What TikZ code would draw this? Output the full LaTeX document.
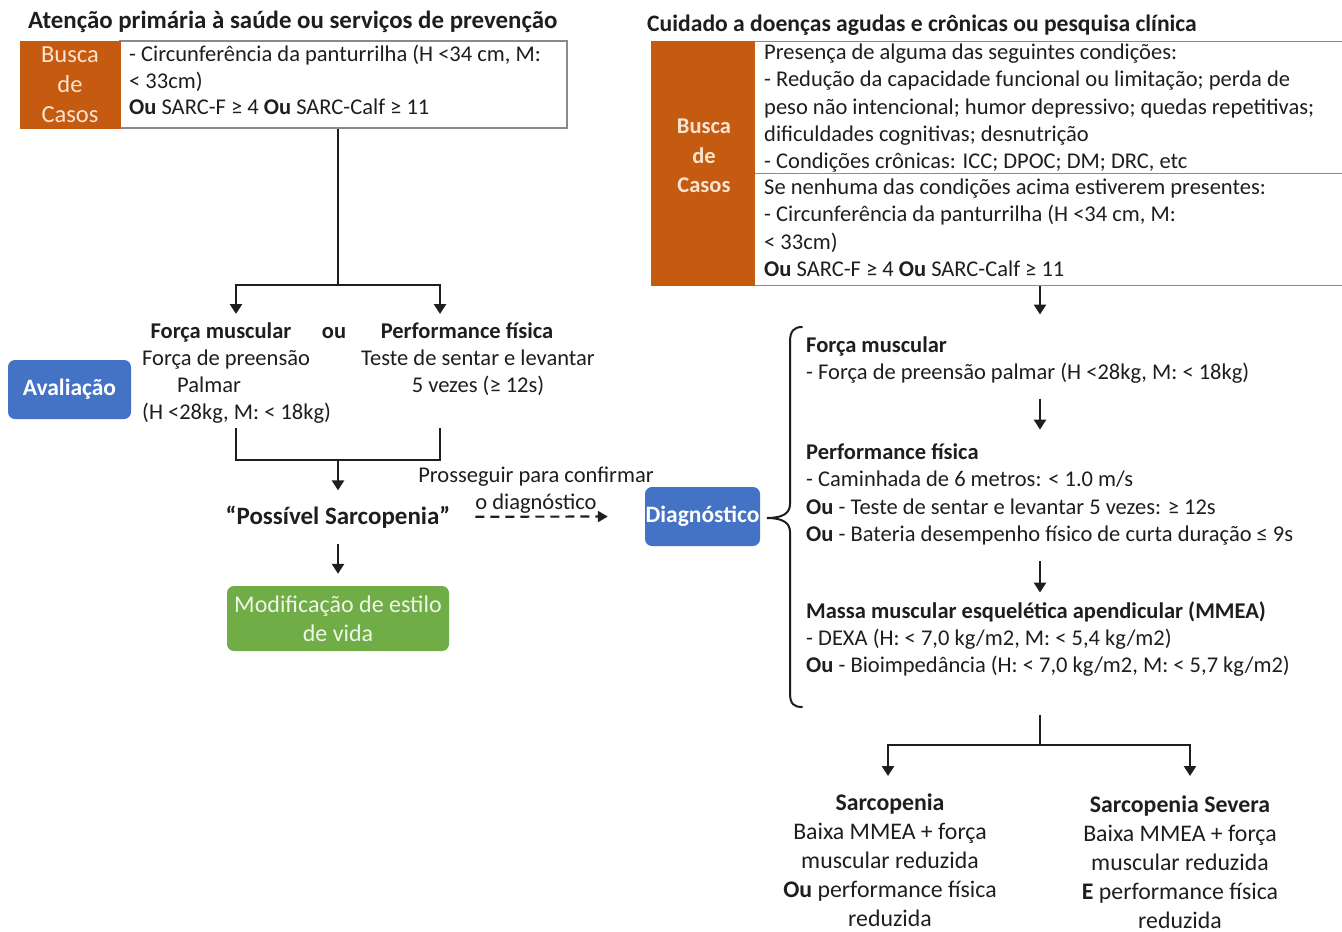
\documentclass[tikz,border=0pt]{standalone}
\usepackage{fontspec}
\setmainfont{Carlito}
\usetikzlibrary{arrows.meta}
\definecolor{orng}{HTML}{C55A11}
\definecolor{cream}{HTML}{FBE3D0}
\definecolor{blu}{HTML}{4472C4}
\definecolor{grn}{HTML}{70AD47}
\definecolor{leaf}{HTML}{EEF6E8}
\definecolor{ink}{HTML}{1E1E1E}
\definecolor{frame}{HTML}{8A8A8A}
\tikzset{
  txt/.style={inner sep=0pt, text=ink, font=\fontsize{22.5}{27}\selectfont},
  head/.style={txt, font=\fontsize{22.5}{27}\selectfont\bfseries},
  orangebox/.style={draw=orng, fill=orng, inner sep=0pt},
  framebox/.style={draw=frame, line width=1.2pt, fill=white, inner sep=0pt},
  pill/.style={rounded corners=7pt, inner sep=0pt, align=center},
  link/.style={line width=2.5pt, draw=ink},
  arrow/.style={link, -{Triangle[length=10pt,width=12pt]}},
  dashlink/.style={link, line width=2.2pt, dash pattern=on 9pt off 6pt, -{Triangle[length=10pt,width=11pt]}},
}
\begin{document}
\begin{tikzpicture}[x=1pt,y=-1pt]
\useasboundingbox[fill=white] (0,0) rectangle (1342,932);

% ---------- titles ----------
\node[head, font=\fontsize{24.9}{27}\selectfont\bfseries, anchor=base west] (titleL) at (28,28) {Atenção primária à saúde ou serviços de prevenção};
\node[head, font=\fontsize{23.6}{27}\selectfont\bfseries, anchor=base west] (titleR) at (647,31) {Cuidado a doenças agudas e crônicas ou pesquisa clínica};

% ---------- case finding, primary care ----------
\node[framebox, minimum width=447, minimum height=87] (wbL) at (343.5,84.5) {};
\node[orangebox, minimum width=100, minimum height=87] (ocL) at (70,84.5) {};
\node[txt, text=cream, align=center, font=\fontsize{24.5}{30}\selectfont, anchor=base] (ocLt) at (70,122) {Busca\\de\\Casos};
\node[txt, font=\fontsize{22.5}{26.5}\selectfont, align=left, anchor=base west] (wbLt) at (129,114.5)
  {- Circunferência da panturrilha (H <34 cm, M:\\< 33cm)\\\textbf{Ou} SARC-F ≥ 4 \textbf{Ou} SARC-Calf ≥ 11};

% ---------- case finding, acute/chronic care ----------
\node[framebox, minimum width=592, minimum height=132, anchor=north west] (wbR1) at (754,41) {};
\node[framebox, minimum width=592, minimum height=112, anchor=north west] (wbR2) at (754,173) {};
\node[orangebox, minimum width=103, minimum height=244] (ocR) at (702.5,163) {};
\node[txt, text=cream, font=\fontsize{22.5}{29.5}\selectfont\bfseries, align=center, anchor=base] (ocRt) at (704,192.5) {Busca\\de\\Casos};
\node[txt, font=\fontsize{22.5}{27.25}\selectfont, align=left, anchor=base west] (wbR1t) at (764,168.5)
  {Presença de alguma das seguintes condições:\\
   - Redução da capacidade funcional ou limitação; perda de\\
   peso não intencional; humor depressivo; quedas repetitivas;\\
   dificuldades cognitivas; desnutrição\\
   - Condições crônicas: ICC; DPOC; DM; DRC, etc};
\node[txt, font=\fontsize{22.5}{27.3}\selectfont, align=left, anchor=base west] (wbR2t) at (764,276.5)
  {Se nenhuma das condições acima estiverem presentes:\\
   - Circunferência da panturrilha (H <34 cm, M:\\
   < 33cm)\\
   \textbf{Ou} SARC-F ≥ 4 \textbf{Ou} SARC-Calf ≥ 11};

% ---------- evaluation, primary care ----------
\node[pill, fill=blu, minimum width=123, minimum height=59, text=white, font=\fontsize{23.5}{24}\selectfont\bfseries] (aval) at (69.5,389.5) {Avaliação};
\node[head, anchor=base] (fmL) at (221,338.5) {Força muscular};
\node[head, anchor=base] (ouL) at (334,338.5) {ou};
\node[head, anchor=base] (pfL) at (467,338.5) {Performance física};
\node[txt, align=left, anchor=base west] (fmLt) at (142,419.5) {Força de preensão\\\hspace*{35pt}Palmar\\(H <28kg, M: < 18kg)};
\node[txt, align=center, anchor=base] (pfLt) at (478,392.5) {Teste de sentar e levantar\\5 vezes (≥ 12s)};

\coordinate (split1) at (338,285);
\coordinate (fmIn) at (236,314);
\coordinate (pfIn) at (440,314);
\draw[link] (wbL.south -| split1) -- (split1);
\draw[arrow] (split1) -| (fmIn);
\draw[arrow] (split1) -| (pfIn);

\coordinate (fmOut) at (236,428);
\coordinate (pfOut) at (440,428);
\coordinate (merge1) at (338,460);
\draw[link] (fmOut) |- (merge1) -| (pfOut);

\node[head, font=\fontsize{25}{27}\selectfont\bfseries, anchor=base] (poss) at (338,524) {“Possível Sarcopenia”};
\draw[arrow, shorten >=15pt] (merge1) -- (poss.north);

\node[pill, fill=grn, minimum width=222, minimum height=65, text=leaf, font=\fontsize{24}{29}\selectfont] (life) at (338,618.5) {Modificação de estilo\\de vida};
\draw[arrow, shorten <=16pt, shorten >=12pt] (poss.south) -- (life.north);

% ---------- diagnosis ----------
\node[pill, fill=blu, minimum width=115, minimum height=59, text=white, font=\fontsize{23.5}{24}\selectfont\bfseries] (diag) at (702.5,516.5) {Diagnóstico};
\draw[dashlink, shorten <=25pt, shorten >=37pt] (poss.east) -- (diag.west);
\node[txt, align=center, anchor=base] (goon) at (536,509.5) {Prosseguir para confirmar\\o diagnóstico};

% curly brace grouping the three diagnostic steps
\draw[link, line width=2pt, line cap=round]
  (802,327) .. controls (794,327) and (790,331) .. (790,342)
  -- (790,504) .. controls (790,513) and (783,518) .. (767,518)
  .. controls (783,518) and (790,523) .. (790,532)
  -- (790,693) .. controls (790,704) and (794,707) .. (802,707);

\coordinate (colR) at (1040,0);
\node[txt, align=left, anchor=base west] (fmR) at (806,379.5)
  {\textbf{Força muscular}\\- Força de preensão palmar (H <28kg, M: < 18kg)};
\node[txt, font=\fontsize{22.5}{27.3}\selectfont, align=left, anchor=base west] (pfR) at (806,541.5)
  {\textbf{Performance física}\\
   - Caminhada de 6 metros: < 1.0 m/s\\
   \textbf{Ou} - Teste de sentar e levantar 5 vezes: ≥ 12s\\
   \textbf{Ou} - Bateria desempenho físico de curta duração ≤ 9s};
\node[txt, align=left, anchor=base west] (mmR) at (806,672.5)
  {\textbf{Massa muscular esquelética apendicular (MMEA)}\\
   - DEXA (H: < 7,0 kg/m2, M: < 5,4 kg/m2)\\
   \textbf{Ou} - Bioimpedância (H: < 7,0 kg/m2, M: < 5,7 kg/m2)};

\draw[arrow, shorten >=22pt] (wbR2.south -| colR) -- (fmR.north -| colR);
\draw[arrow, shorten <=15pt, shorten >=14pt] (fmR.south -| colR) -- (pfR.north -| colR);
\draw[arrow, shorten <=16pt, shorten >=9pt] (pfR.south -| colR) -- (mmR.north -| colR);

% ---------- outcome ----------
\coordinate (split2) at (1040,745);
\coordinate (sarcIn) at (888,776);
\coordinate (sevIn) at (1190,776);
\draw[link, shorten <=38pt] (mmR.south -| split2) -- (split2);
\draw[arrow] (split2) -| (sarcIn);
\draw[arrow] (split2) -| (sevIn);

\node[txt, font=\fontsize{23.8}{29}\selectfont, align=center, anchor=base] (sarc) at (890,926.5)
  {\textbf{Sarcopenia}\\Baixa MMEA + força\\muscular reduzida\\\textbf{Ou} performance física\\reduzida};
\node[txt, font=\fontsize{23.8}{29}\selectfont, align=center, anchor=base] (sev) at (1180,928.5)
  {\textbf{Sarcopenia Severa}\\Baixa MMEA + força\\muscular reduzida\\\textbf{E} performance física\\reduzida};
\end{tikzpicture}
\end{document}
